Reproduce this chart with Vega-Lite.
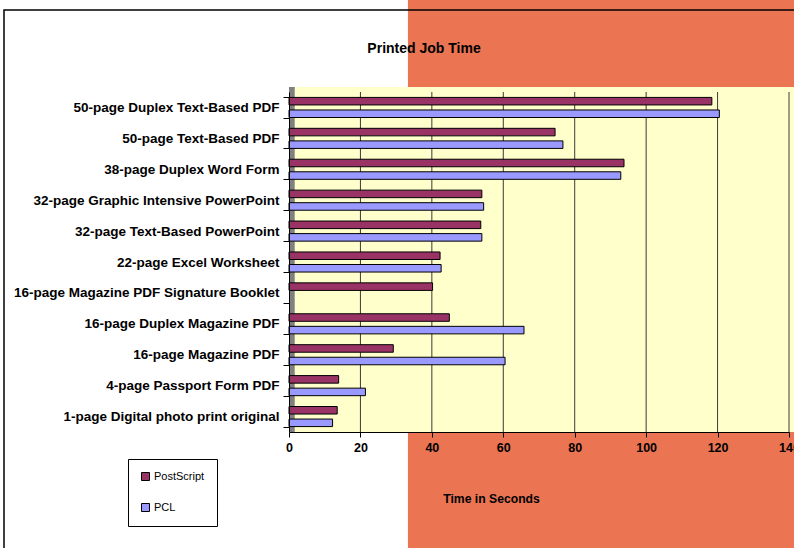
{
  "$schema": "https://vega.github.io/schema/vega-lite/v6.json",
  "width": 500,
  "height": 340,
  "autosize": {"type": "none"},
  "padding": {"left": 289, "top": 92, "right": 5, "bottom": 116},
  "background": "white",
  "config": {"font": "Liberation Sans", "view": {"stroke": null}},
  "title": {"text": "Printed Job Time", "fontSize": 14, "fontWeight": "bold", "color": "black", "anchor": "middle", "frame": "group", "dx": -115, "baseline": "middle", "offset": -63},
  "resolve": {"scale": {"x": "independent", "y": "independent"}, "axis": {"x": "independent", "y": "independent"}},
  "layer": [
    {
      "data": {"values": [{"from": 33.3, "to": 160, "top": 1.2706, "bottom": -0.5}]},
      "mark": {"type": "rect", "color": "#EB7452", "clip": false},
      "encoding": {
        "x": {"field": "from", "type": "quantitative", "scale": {"domain": [0, 140], "nice": false, "zero": false}, "axis": null},
        "x2": {"field": "to"},
        "y": {"field": "top", "type": "quantitative", "scale": {"domain": [0, 1], "nice": false, "zero": false}, "axis": null},
        "y2": {"field": "bottom"}
      }
    },
    {
      "data": {"values": [{"from": -79.8, "to": 170, "top": 1.241, "bottom": -0.6}]},
      "mark": {"type": "rect", "fillOpacity": 0, "stroke": "black", "strokeWidth": 1.5, "clip": false},
      "encoding": {
        "x": {"field": "from", "type": "quantitative", "scale": {"domain": [0, 140], "nice": false, "zero": false}, "axis": null},
        "x2": {"field": "to"},
        "y": {"field": "top", "type": "quantitative", "scale": {"domain": [0, 1], "nice": false, "zero": false}, "axis": null},
        "y2": {"field": "bottom"}
      }
    },
    {
      "data": {"values": [{"from": 0, "to": 141.5, "top": 1.015, "bottom": 0}]},
      "mark": {"type": "rect", "color": "#FFFFCC", "clip": false},
      "encoding": {
        "x": {"field": "from", "type": "quantitative", "scale": {"domain": [0, 140], "nice": false, "zero": false}, "axis": null},
        "x2": {"field": "to"},
        "y": {"field": "top", "type": "quantitative", "scale": {"domain": [0, 1], "nice": false, "zero": false}, "axis": null},
        "y2": {"field": "bottom"}
      }
    },
    {
      "data": {"values": [{"from": 0, "to": 1.6, "top": 1.015, "bottom": 0}]},
      "mark": {"type": "rect", "color": "#808080", "clip": false},
      "encoding": {
        "x": {"field": "from", "type": "quantitative", "scale": {"domain": [0, 140], "nice": false, "zero": false}, "axis": null},
        "x2": {"field": "to"},
        "y": {"field": "top", "type": "quantitative", "scale": {"domain": [0, 1], "nice": false, "zero": false}, "axis": null},
        "y2": {"field": "bottom"}
      }
    },
    {
      "data": {"values": [{"v": 20}, {"v": 40}, {"v": 60}, {"v": 80}, {"v": 100}, {"v": 120}, {"v": 140}]},
      "mark": {"type": "rule", "color": "#3a3a3a", "strokeWidth": 1},
      "encoding": {
        "x": {"field": "v", "type": "quantitative", "scale": {"domain": [0, 140], "nice": false, "zero": false}, "axis": null}
      }
    },
    {
      "data": {"values": [
        {"job": "50-page Duplex Text-Based PDF", "driver": "PostScript", "seconds": 118.4},
        {"job": "50-page Duplex Text-Based PDF", "driver": "PCL", "seconds": 120.5},
        {"job": "50-page Text-Based PDF", "driver": "PostScript", "seconds": 74.5},
        {"job": "50-page Text-Based PDF", "driver": "PCL", "seconds": 76.7},
        {"job": "38-page Duplex Word Form ", "driver": "PostScript", "seconds": 93.8},
        {"job": "38-page Duplex Word Form ", "driver": "PCL", "seconds": 92.9},
        {"job": "32-page Graphic Intensive PowerPoint", "driver": "PostScript", "seconds": 54},
        {"job": "32-page Graphic Intensive PowerPoint", "driver": "PCL", "seconds": 54.5},
        {"job": "32-page Text-Based PowerPoint ", "driver": "PostScript", "seconds": 53.7},
        {"job": "32-page Text-Based PowerPoint ", "driver": "PCL", "seconds": 54},
        {"job": "22-page Excel Worksheet", "driver": "PostScript", "seconds": 42.3},
        {"job": "22-page Excel Worksheet", "driver": "PCL", "seconds": 42.6},
        {"job": "16-page Magazine PDF Signature Booklet", "driver": "PostScript", "seconds": 40.2},
        {"job": "16-page Duplex Magazine PDF ", "driver": "PostScript", "seconds": 44.9},
        {"job": "16-page Duplex Magazine PDF ", "driver": "PCL", "seconds": 65.8},
        {"job": "16-page Magazine PDF", "driver": "PostScript", "seconds": 29.2},
        {"job": "16-page Magazine PDF", "driver": "PCL", "seconds": 60.5},
        {"job": "4-page Passport Form PDF", "driver": "PostScript", "seconds": 13.9},
        {"job": "4-page Passport Form PDF", "driver": "PCL", "seconds": 21.4},
        {"job": "1-page Digital photo print original", "driver": "PostScript", "seconds": 13.5},
        {"job": "1-page Digital photo print original", "driver": "PCL", "seconds": 12.2}
      ]},
      "mark": {"type": "bar", "stroke": "black", "strokeWidth": 1},
      "encoding": {
        "x": {"field": "seconds", "type": "quantitative",
          "scale": {"domain": [0, 140], "nice": false, "zero": false},
          "axis": {"values": [0, 20, 40, 60, 80, 100, 120, 140], "grid": false, "zindex": 1, "tickSize": 5, "tickColor": "black", "domainColor": "black", "labelFontWeight": "bold", "labelFontSize": 12.5, "labelColor": "black", "labelPadding": 4, "labelFlush": false,
            "title": "Time in Seconds", "titleFontSize": 12.2, "titleFontWeight": "bold", "titleColor": "black", "titleX": 202, "titleY": 66, "titleBaseline": "middle"}},
        "y": {"field": "job", "type": "nominal", "sort": null,
          "scale": {"paddingInner": 0.35, "paddingOuter": 0.175},
          "axis": {"title": null, "zindex": 1, "tickBand": "extent", "tickSize": 6, "tickColor": "black", "domainColor": "black", "labelFontWeight": "bold", "labelFontSize": 13.5, "labelColor": "black", "labelPadding": 4, "labelLimit": 400}},
        "yOffset": {"field": "driver", "type": "nominal", "scale": {"domain": ["PostScript", "PCL"], "paddingInner": 0.4}},
        "color": {"field": "driver", "type": "nominal",
          "scale": {"domain": ["PostScript", "PCL"], "range": ["#993366", "#9999FF"]},
          "legend": {"title": null, "orient": "none", "legendX": -161, "legendY": 367, "direction": "vertical", "fillColor": "white", "strokeColor": "black", "padding": 12, "rowPadding": 18, "symbolType": "square", "symbolSize": 64, "symbolStrokeColor": "black", "symbolStrokeWidth": 1, "symbolOpacity": 1, "labelFontSize": 11, "labelColor": "black", "labelOffset": 3}}
      }
    }
  ]
}
